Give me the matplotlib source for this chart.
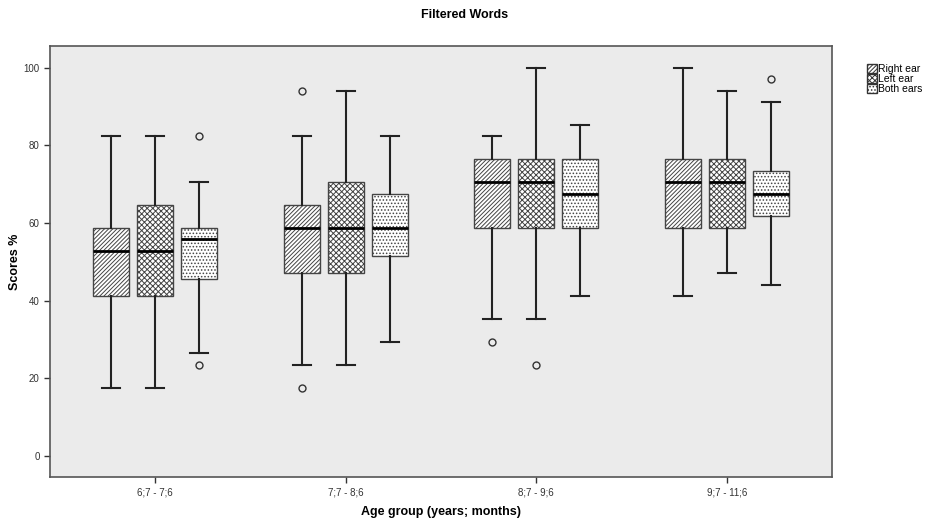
import numpy as np
import matplotlib
matplotlib.use('Agg')
import matplotlib.pyplot as plt
from matplotlib.patches import Patch

plt.rcParams['font.family'] = ['Liberation Sans', 'DejaVu Sans']
plt.rcParams['hatch.color'] = '#333333'
plt.rcParams['hatch.linewidth'] = 0.7

# data (scores %)
groups = ['6;7 - 7;6', '7;7 - 8;6', '8;7 - 9;6', '9;7 - 11;6']
series = ['Right ear', 'Left ear', 'Both ears']

# [whislo, q1, med, q3, whishi] per group
right_ear = [[17.6, 41.2, 52.9, 58.8, 82.4],
             [23.5, 47.1, 58.8, 64.7, 82.4],
             [35.3, 58.8, 70.6, 76.5, 82.4],
             [41.2, 58.8, 70.6, 76.5, 100.0]]
left_ear = [[17.6, 41.2, 52.9, 64.7, 82.4],
            [23.5, 47.1, 58.8, 70.6, 94.1],
            [35.3, 58.8, 70.6, 76.5, 100.0],
            [47.1, 58.8, 70.6, 76.5, 94.1]]
both_ears = [[26.5, 45.6, 55.9, 58.8, 70.6],
             [29.4, 51.4, 58.8, 67.6, 82.4],
             [41.2, 58.8, 67.6, 76.5, 85.3],
             [44.1, 61.8, 67.6, 73.5, 91.2]]
right_out = [[], [94.1, 17.6], [29.4], []]
left_out = [[], [], [23.5], []]
both_out = [[82.4, 23.5], [], [], [97.1]]

all_stats = [right_ear, left_ear, both_ears]
all_out = [right_out, left_out, both_out]
hatches = ['////////', 'xxxxxx', '.....']

fig = plt.figure(figsize=(9.26, 5.23), dpi=100)
ax = fig.add_axes([50/926, 1-477/523, 782/926, 431/523])
ax.set_facecolor('#ebebeb')

offset = 0.231
width = 0.189
for s in range(3):
    stats = []
    for g in range(4):
        v = all_stats[s][g]
        stats.append({'whislo': v[0], 'q1': v[1], 'med': v[2], 'q3': v[3],
                      'whishi': v[4], 'fliers': all_out[s][g]})
    pos = np.arange(4) + (s - 1) * offset
    bp = ax.bxp(stats, positions=pos, widths=width, patch_artist=True,
                showfliers=True, manage_ticks=False,
                boxprops=dict(facecolor='white', edgecolor='#444444', linewidth=1.0),
                medianprops=dict(color='black', linewidth=2),
                whiskerprops=dict(color='#222222', linewidth=1.5),
                capprops=dict(color='#222222', linewidth=1.5),
                capwidths=width * 0.5,
                flierprops=dict(marker='o', markerfacecolor='none',
                                markeredgecolor='#333333', markersize=5,
                                markeredgewidth=1.0))
    for b in bp['boxes']:
        b.set_hatch(hatches[s])

ax.set_xlim(-0.55, 3.55)
ax.set_ylim(-5.4, 105.6)
ax.set_xticks(np.arange(4))
ax.set_xticklabels(groups)
ax.set_yticks([0, 20, 40, 60, 80, 100])
ax.tick_params(axis='both', labelsize=7, colors='#333333', length=4, width=1)
for sp in ax.spines.values():
    sp.set_color('#555555')
    sp.set_linewidth(1.2)

ax.set_xlabel('Age group (years; months)', fontsize=9, fontweight='bold', labelpad=6)
ax.set_ylabel('Scores %', fontsize=9, fontweight='bold')
ax.yaxis.set_label_coords(-29/782, 0.5)
fig.text(0.502, 1-15/523, 'Filtered Words', ha='center', va='center',
         fontsize=9, fontweight='bold')

handles = [Patch(facecolor='white', edgecolor='#333333', hatch=h, label=l)
           for h, l in zip(hatches, series)]
fig.legend(handles=handles, loc='upper left', bbox_to_anchor=(862/926, 1-59/523),
           frameon=False, fontsize=7.5, handlelength=0.9, handleheight=0.9,
           handletextpad=0.1, labelspacing=0.0, borderpad=0)

fig.savefig('out.png', dpi=100)
